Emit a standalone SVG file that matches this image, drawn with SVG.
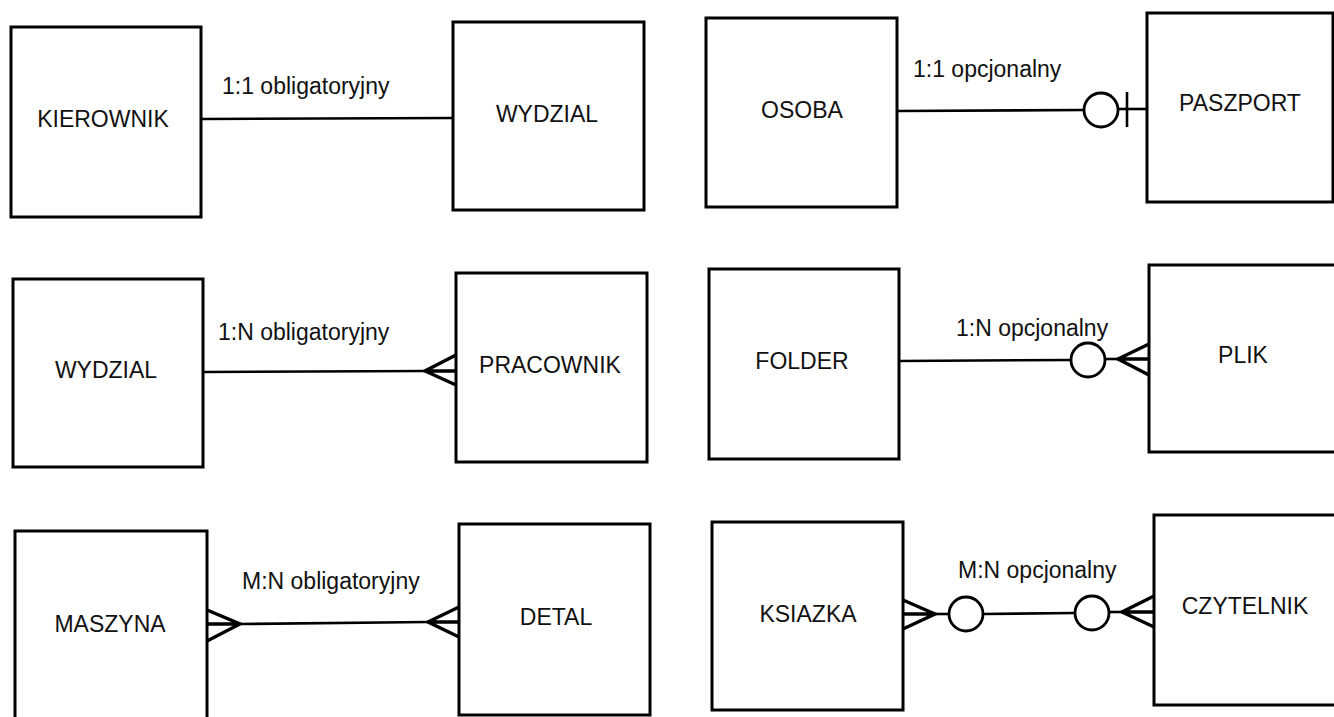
<svg xmlns="http://www.w3.org/2000/svg" width="1334" height="717" viewBox="0 0 1334 717">
<style>
.box{fill:#fff;stroke:#000;stroke-width:3}
.t{font-family:"Liberation Sans",Arial,sans-serif;font-size:23px;fill:#111}
.c{text-anchor:middle}
.ln{stroke:#000;stroke-width:2.6;fill:none}
.cf{stroke:#000;stroke-width:3.4;fill:none;stroke-linejoin:miter}
.o{stroke:#000;stroke-width:2.8;fill:#fff}
</style>
<rect width="1334" height="717" fill="#fff"/>
<g id="connectors">
  <!-- KIEROWNIK - WYDZIAL -->
  <line class="ln" x1="201" y1="119" x2="453" y2="118"/>
  <!-- OSOBA - PASZPORT -->
  <line class="ln" x1="897" y1="111" x2="1083" y2="110"/>
  <circle class="o" cx="1101" cy="110" r="17"/>
  <line class="ln" x1="1118" y1="109" x2="1147" y2="109"/>
  <line class="ln" x1="1127" y1="92" x2="1127" y2="127"/>
  <!-- WYDZIAL - PRACOWNIK -->
  <line class="ln" x1="203" y1="372" x2="425" y2="371"/>
  <path class="cf" d="M456,355 L425,371 L456,385 M425,371 L456,371"/>
  <!-- FOLDER - PLIK -->
  <line class="ln" x1="899" y1="361" x2="1071" y2="360"/>
  <circle class="o" cx="1088" cy="360" r="17"/>
  <line class="ln" x1="1105" y1="359" x2="1118" y2="359"/>
  <path class="cf" d="M1149,344 L1118,359 L1149,375 M1118,359 L1149,359"/>
  <!-- MASZYNA - DETAL -->
  <path class="cf" d="M207,610 L240,624 L207,641 M207,624 L240,624"/>
  <line class="ln" x1="240" y1="624" x2="428" y2="622"/>
  <path class="cf" d="M459,607 L428,622 L459,637 M428,622 L459,622"/>
  <!-- KSIAZKA - CZYTELNIK -->
  <path class="cf" d="M903,600 L935,614 L903,629 M903,614 L935,614"/>
  <line class="ln" x1="935" y1="614" x2="949" y2="614"/>
  <circle class="o" cx="966" cy="614" r="17"/>
  <line class="ln" x1="983" y1="614" x2="1075" y2="613"/>
  <circle class="o" cx="1092" cy="613" r="17"/>
  <line class="ln" x1="1109" y1="612" x2="1122" y2="612"/>
  <path class="cf" d="M1154,596 L1122,612 L1154,627 M1122,612 L1154,612"/>
  <text class="t" x="222" y="94">1:1 obligatoryjny</text>
  <text class="t" x="913" y="77">1:1 opcjonalny</text>
  <text class="t" x="218" y="340">1:N obligatoryjny</text>
  <text class="t" x="956" y="336">1:N opcjonalny</text>
  <text class="t" x="242" y="589">M:N obligatoryjny</text>
  <text class="t" x="958" y="578">M:N opcjonalny</text>
</g>
<g id="n-kierownik"><rect class="box" x="11" y="27" width="190" height="190"/><text class="t c" x="103" y="127">KIEROWNIK</text></g>
<g id="n-wydzial1"><rect class="box" x="453" y="22" width="191" height="188"/><text class="t c" x="547" y="122">WYDZIAL</text></g>
<g id="n-osoba"><rect class="box" x="706" y="18" width="191" height="189"/><text class="t c" x="802" y="118">OSOBA</text></g>
<g id="n-paszport"><rect class="box" x="1147" y="13" width="186" height="189"/><text class="t c" x="1240" y="111">PASZPORT</text></g>
<g id="n-wydzial2"><rect class="box" x="13" y="279" width="190" height="188"/><text class="t c" x="106" y="378">WYDZIAL</text></g>
<g id="n-pracownik"><rect class="box" x="456" y="273" width="191" height="189"/><text class="t c" x="550" y="373">PRACOWNIK</text></g>
<g id="n-folder"><rect class="box" x="709" y="269" width="190" height="190"/><text class="t c" x="802" y="369">FOLDER</text></g>
<g id="n-plik"><rect class="box" x="1149" y="265" width="200" height="187"/><text class="t c" x="1243" y="363">PLIK</text></g>
<g id="n-maszyna"><rect class="box" x="15" y="531" width="192" height="200"/><text class="t c" x="110" y="632">MASZYNA</text></g>
<g id="n-detal"><rect class="box" x="459" y="524" width="191" height="191"/><text class="t c" x="556" y="625">DETAL</text></g>
<g id="n-ksiazka"><rect class="box" x="712" y="522" width="191" height="188"/><text class="t c" x="808" y="622">KSIAZKA</text></g>
<g id="n-czytelnik"><rect class="box" x="1154" y="515" width="195" height="190"/><text class="t c" x="1245" y="614">CZYTELNIK</text></g>
</svg>
